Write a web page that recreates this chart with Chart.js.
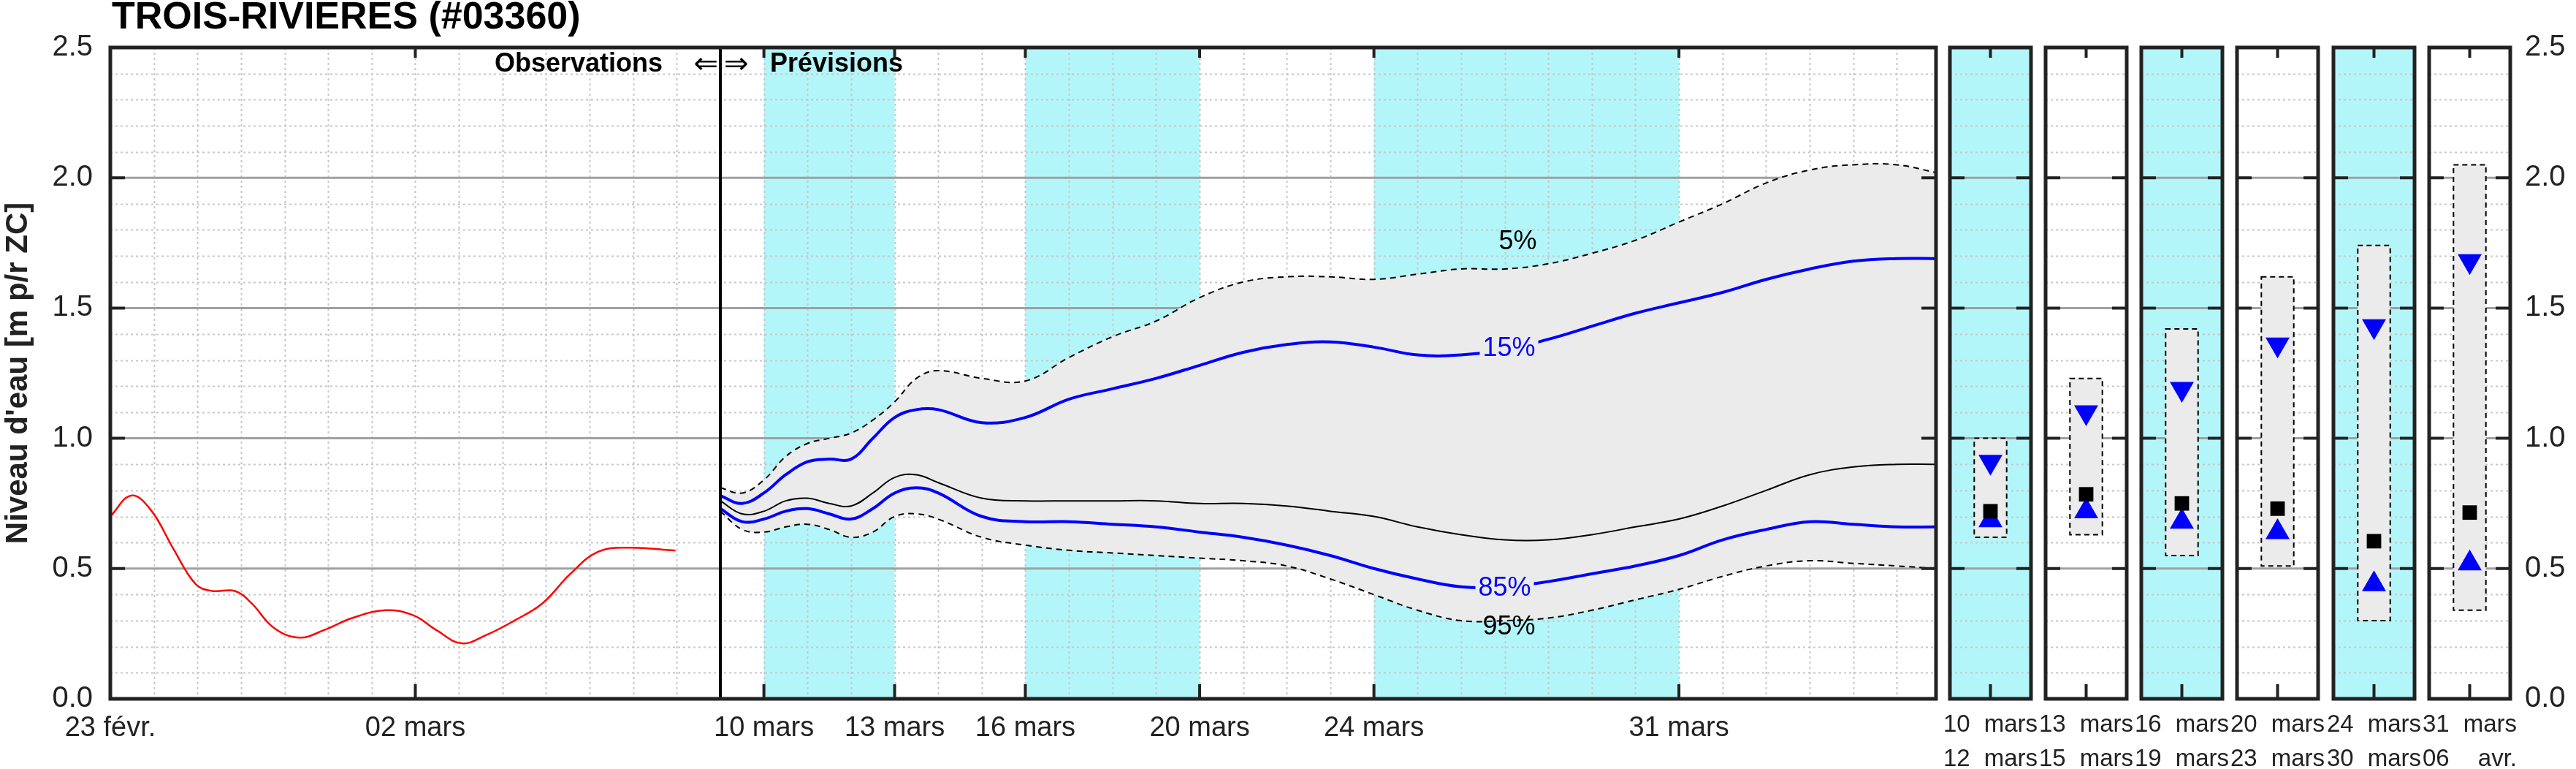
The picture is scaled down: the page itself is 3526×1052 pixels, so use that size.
<!DOCTYPE html>
<html><head><meta charset="utf-8">
<script src="https://cdn.jsdelivr.net/npm/chart.js@4.4.1/dist/chart.umd.min.js"></script>
<style>
html,body{margin:0;padding:0;background:#fff;}
body{width:3526px;height:1052px;position:relative;overflow:hidden;}
canvas{position:absolute;top:0;}
</style></head><body>
<canvas id="main" style="left:0;width:2670px;height:1052px" width="2670" height="1052"></canvas>
<script>
// ---------- DATA ----------
const title = "TROIS-RIVIERES (#03360)";
// x = days since 23 févr.
const mainTickDays = [0, 7, 15, 18, 21, 25, 29, 36];
const mainTickLabels = ["23 févr.", "02 mars", "10 mars", "13 mars", "16 mars", "20 mars", "24 mars", "31 mars"];
const cyanBands = [[15, 18], [21, 25], [29, 36]];
const forecastStart = 14;
const obsX = [0,0.48,0.93,1.45,1.96,2.34,2.86,3.24,3.75,4.33,4.91,5.55,6.32,6.96,7.48,8.06,8.63,9.27,9.92,10.56,11.2,11.9,12.97];
const obsY = [0.70,0.78,0.725,0.575,0.44,0.414,0.414,0.367,0.273,0.235,0.264,0.31,0.34,0.32,0.264,0.213,0.245,0.30,0.367,0.48,0.565,0.58,0.569];
const fcX = [14,14.5,15,15.5,16,16.5,17,17.5,18,18.5,19,20,21,22,23,24,25,26,27,28,29,30,31,32,33,34,35,36,37,38,39,40,41,41.9];
const q05 = [0.81,0.79,0.84,0.93,0.98,1.00,1.02,1.07,1.14,1.23,1.26,1.23,1.22,1.31,1.39,1.45,1.54,1.60,1.62,1.62,1.61,1.63,1.65,1.65,1.67,1.71,1.76,1.83,1.90,1.98,2.03,2.05,2.05,2.02];
const q15 = [0.78,0.75,0.79,0.86,0.91,0.92,0.92,1.00,1.08,1.11,1.11,1.06,1.08,1.15,1.19,1.23,1.28,1.33,1.36,1.37,1.35,1.32,1.32,1.34,1.38,1.43,1.48,1.52,1.56,1.61,1.65,1.68,1.69,1.69];
const q50 = [0.76,0.71,0.72,0.76,0.77,0.75,0.74,0.79,0.85,0.86,0.83,0.77,0.76,0.76,0.76,0.76,0.75,0.75,0.74,0.72,0.70,0.66,0.63,0.61,0.61,0.63,0.66,0.69,0.74,0.80,0.86,0.89,0.90,0.90];
const q85 = [0.73,0.68,0.69,0.72,0.73,0.71,0.69,0.73,0.79,0.81,0.79,0.70,0.68,0.68,0.67,0.66,0.64,0.62,0.59,0.55,0.50,0.46,0.43,0.43,0.45,0.48,0.51,0.55,0.61,0.65,0.68,0.67,0.66,0.66];
const q95 = [0.72,0.65,0.64,0.66,0.67,0.65,0.62,0.64,0.70,0.71,0.69,0.62,0.59,0.57,0.56,0.55,0.54,0.53,0.51,0.46,0.40,0.34,0.30,0.30,0.31,0.34,0.38,0.42,0.47,0.51,0.53,0.52,0.51,0.50];
// percentile labels: [text, x(day), y, colour]
const pctLabels = [["5%",32.3,1.76,"#000"],["15%",32.1,1.35,"#0000ff"],["85%",32.0,0.43,"#0000ff"],["95%",32.1,0.28,"#000"]];
// period panels: [start day, unit] / [end day, unit]
const panelLabels = [[["10","mars"],["12","mars"]],[["13","mars"],["15","mars"]],[["16","mars"],["19","mars"]],[["20","mars"],["23","mars"]],[["24","mars"],["30","mars"]],[["31","mars"],["06","avr."]]];
const panelCyan = [true,false,true,false,true,false];
const panelLow  = [0.62,0.63,0.55,0.51,0.30,0.34];
const panelHigh = [1.00,1.23,1.42,1.62,1.74,2.05];
const panelP15  = [0.91,1.10,1.19,1.36,1.43,1.68];
const panelMed  = [0.72,0.785,0.75,0.73,0.605,0.715];
const panelP85  = [0.685,0.72,0.68,0.64,0.44,0.52];
const yTicks = [0,0.5,1,1.5,2,2.5];

// ---------- LAYOUT ----------
const TOP = 65, BOTTOM = 956, H = 1052;
const panelLeft = [2669,2800,2931,3062,3194,3325];
const panelW = 111;
const CYAN = '#b3f6fa', GRAYFILL = '#ebebeb', FRAME = '#222';
const FONT = "'Liberation Sans', Arial, sans-serif";

function pts(xs, ys){ return xs.map((x,i)=>({x:x,y:ys[i]})); }

function drawGrid(chart, vLines){
  const {ctx, chartArea:a, scales:{x, y}} = chart;
  ctx.save();
  ctx.lineWidth = 2; ctx.strokeStyle = '#c8c8c8'; ctx.setLineDash([3,4]);
  for (let v=1; v<25; v++){ if (v%5===0) continue;
    const py = Math.round(y.getPixelForValue(v/10))+0.5;
    ctx.beginPath(); ctx.moveTo(a.left,py); ctx.lineTo(a.right,py); ctx.stroke(); }
  vLines.forEach(d=>{ const px = Math.round(x.getPixelForValue(d))+0.5;
    ctx.beginPath(); ctx.moveTo(px,a.top); ctx.lineTo(px,a.bottom); ctx.stroke(); });
  ctx.setLineDash([]); ctx.strokeStyle = '#a0a0a0'; ctx.lineWidth = 3;
  [0.5,1,1.5,2].forEach(v=>{ const py = y.getPixelForValue(v);
    ctx.beginPath(); ctx.moveTo(a.left,py); ctx.lineTo(a.right,py); ctx.stroke(); });
  ctx.restore();
}
function drawFrame(chart, tickXs){
  const {ctx, chartArea:a, scales:{x, y}} = chart;
  ctx.save();
  ctx.strokeStyle = FRAME; ctx.lineWidth = 4;
  tickXs.forEach(d=>{ const px = x.getPixelForValue(d);
    ctx.beginPath(); ctx.moveTo(px,a.bottom); ctx.lineTo(px,a.bottom-20); ctx.moveTo(px,a.top); ctx.lineTo(px,a.top+14); ctx.stroke(); });
  [0.5,1,1.5,2].forEach(v=>{ const py = y.getPixelForValue(v);
    ctx.beginPath(); ctx.moveTo(a.left,py); ctx.lineTo(a.left+20,py); ctx.moveTo(a.right,py); ctx.lineTo(a.right-20,py); ctx.stroke(); });
  ctx.lineWidth = 5;
  ctx.strokeRect(a.left, a.top, a.right-a.left, a.bottom-a.top);
  ctx.restore();
}

// ---------- MAIN CHART ----------
const days = []; for (let d=0; d<=41; d++) days.push(d);
const mainPlugin = {
  id:'mainDeco',
  beforeDatasetsDraw(chart){
    const {ctx, chartArea:a, scales:{x}} = chart;
    ctx.save(); ctx.fillStyle = CYAN;
    cyanBands.forEach(([s,e])=>{ const x0=x.getPixelForValue(s), x1=x.getPixelForValue(e);
      ctx.fillRect(x0,a.top,x1-x0,a.bottom-a.top); });
    ctx.restore();
    drawGrid(chart, days.filter(d=>d>0));
  },
  afterDatasetsDraw(chart){
    const {ctx, chartArea:a, scales:{x, y}} = chart;
    ctx.save();
    pctLabels.forEach(([t,dx,vy,c])=>{
      const px=x.getPixelForValue(dx), py=y.getPixelForValue(vy);
      ctx.font = "36px "+FONT; const w = ctx.measureText(t).width;
      if (c!=="#000"){ ctx.fillStyle = GRAYFILL; ctx.fillRect(px-w/2-4,py-18,w+8,36); }
      ctx.fillStyle = c; ctx.textAlign='center'; ctx.textBaseline='middle'; ctx.fillText(t,px,py+2);
    });
    const fx = x.getPixelForValue(forecastStart);
    ctx.strokeStyle='#000'; ctx.lineWidth=4;
    ctx.beginPath(); ctx.moveTo(fx,a.top); ctx.lineTo(fx,a.bottom); ctx.stroke();
    ctx.fillStyle='#000'; ctx.textBaseline='middle';
    ctx.font = "bold 36px "+FONT;
    ctx.textAlign='right'; ctx.fillText("Observations", fx-79, a.top+23);
    ctx.textAlign='left'; ctx.fillText("Prévisions", fx+68, a.top+23);
    ctx.font = "40px 'DejaVu Sans', sans-serif";
    ctx.textAlign='right'; ctx.fillText("⇐", fx-3, a.top+25);
    ctx.textAlign='left'; ctx.fillText("⇒", fx+5, a.top+25);
    ctx.font = "bold 52px "+FONT;
    ctx.textAlign='left'; ctx.textBaseline='middle';
    ctx.fillText(title, 153, 25);
    ctx.restore();
    drawFrame(chart, mainTickDays);
  }
};
const lineBase = {pointRadius:0, tension:0.4, fill:false, order:0};
new Chart(document.getElementById('main'), {
  type:'line',
  data:{datasets:[
    {...lineBase, data:pts(fcX,q95), borderColor:'#000', borderWidth:2, borderDash:[8,6], order:5},
    {...lineBase, data:pts(fcX,q05), borderColor:'#000', borderWidth:2, borderDash:[8,6], fill:'-1', backgroundColor:GRAYFILL, order:6},
    {...lineBase, data:pts(fcX,q50), borderColor:'#000', borderWidth:2},
    {...lineBase, data:pts(fcX,q15), borderColor:'#0000ff', borderWidth:4},
    {...lineBase, data:pts(fcX,q85), borderColor:'#0000ff', borderWidth:4},
    {...lineBase, data:pts(obsX,obsY), borderColor:'#ff0000', borderWidth:2.5}
  ]},
  options:{
    responsive:false, animation:false, devicePixelRatio:1,
    layout:{padding:{top:TOP, right:20, left:0, bottom:0}},
    plugins:{legend:{display:false}, tooltip:{enabled:false}},
    scales:{
      x:{type:'linear', min:0, max:41.9, grid:{display:false}, border:{display:false},
         afterBuildTicks(s){ s.ticks = mainTickDays.map(v=>({value:v})); },
         afterFit(s){ s.height = H-BOTTOM; },
         ticks:{autoSkip:false, maxRotation:0, color:'#222', font:{size:38, family:FONT}, padding:10,
           callback:(v)=>{ const i=mainTickDays.indexOf(v); return i>=0?mainTickLabels[i]:''; }}},
      y:{min:0, max:2.5, grid:{display:false}, border:{display:false},
         afterBuildTicks(s){ s.ticks = yTicks.map(v=>({value:v})); },
         afterFit(s){ s.width = 151; },
         ticks:{color:'#222', font:{size:40, family:FONT}, padding:16, callback:v=>v.toFixed(1)},
         title:{display:true, text:"Niveau d'eau [m p/r ZC]", color:'#222', font:{size:42, weight:'bold', family:FONT}, padding:{top:0,bottom:0}}}
    }
  },
  plugins:[mainPlugin]
});

// ---------- PANELS ----------
panelLeft.forEach((left,i)=>{
  const last = i===panelLeft.length-1;
  const padL = 20, padR = last?0:20, rightAxis = last?88:0;
  const c = document.createElement('canvas');
  const w = padL+panelW+padR+rightAxis;
  c.width = w; c.height = H; c.style.left=(left-padL)+'px'; c.style.width=w+'px'; c.style.height=H+'px';
  document.body.appendChild(c);
  const plug = {
    id:'panelDeco'+i,
    beforeDatasetsDraw(chart){
      const {ctx, chartArea:a, scales:{y}} = chart;
      if (panelCyan[i]){ ctx.save(); ctx.fillStyle=CYAN; ctx.fillRect(a.left,a.top,a.right-a.left,a.bottom-a.top); ctx.restore(); }
      drawGrid(chart, []);
      const x = chart.scales.x;
      const x0=x.getPixelForValue(0.3), x1=x.getPixelForValue(0.7);
      const y0=y.getPixelForValue(panelHigh[i]), y1=y.getPixelForValue(panelLow[i]);
      ctx.save(); ctx.fillStyle=GRAYFILL; ctx.fillRect(x0,y0,x1-x0,y1-y0);
      ctx.strokeStyle='#000'; ctx.lineWidth=2; ctx.setLineDash([7,5]); ctx.strokeRect(x0,y0,x1-x0,y1-y0); ctx.restore();
    },
    afterDatasetsDraw(chart){
      drawFrame(chart,[0.5]);
      const {ctx, chartArea:a} = chart;
      ctx.save(); ctx.fillStyle='#222'; ctx.font="33px "+FONT; ctx.textBaseline='middle';
      panelLabels[i].forEach((row,r)=>{
        const yy = 992 + r*47;
        ctx.textAlign='left'; ctx.fillText(row[0], a.left-9, yy);
        ctx.textAlign='right'; ctx.fillText(row[1], a.right+9, yy);
      });
      ctx.restore();
    }
  };
  new Chart(c, {
    type:'scatter',
    data:{datasets:[
      {data:[{x:0.5,y:panelMed[i]}], pointStyle:'rect', pointRadius:14, backgroundColor:'#000', borderColor:'#000', borderWidth:0},
      {data:[{x:0.5,y:panelP85[i]}], pointStyle:'triangle', pointRadius:19, backgroundColor:'#0000ff', borderColor:'#0000ff', borderWidth:0},
      {data:[{x:0.5,y:panelP15[i]}], pointStyle:'triangle', rotation:180, pointRadius:19, backgroundColor:'#0000ff', borderColor:'#0000ff', borderWidth:0}
    ]},
    options:{
      responsive:false, animation:false, devicePixelRatio:1,
      layout:{padding:{top:TOP, left:padL, right:padR, bottom:0}},
      plugins:{legend:{display:false}, tooltip:{enabled:false}},
      scales:{
        x:{type:'linear', min:0, max:1, grid:{display:false}, border:{display:false},
           afterBuildTicks(s){ s.ticks=[{value:0.5}]; },
           afterFit(s){ s.height = H-BOTTOM; },
           ticks:{display:false}},
        y:{min:0, max:2.5, display:last, position:'right', grid:{display:false}, border:{display:false},
           afterBuildTicks(s){ s.ticks = yTicks.map(v=>({value:v})); },
           afterFit(s){ s.width = rightAxis; },
           ticks:{color:'#222', font:{size:40, family:FONT}, padding:12, callback:v=>v.toFixed(1)}}
      }
    },
    plugins:[plug]
  });
});
</script>
</body></html>
